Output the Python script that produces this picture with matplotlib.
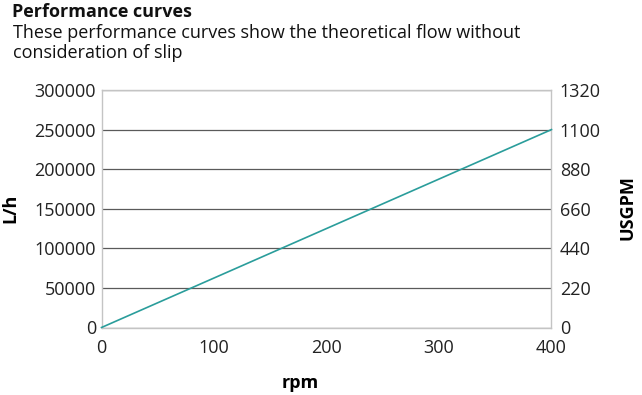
import matplotlib
matplotlib.use("Agg")
import matplotlib.pyplot as plt

rpm = [0, 400]
flow_lh = [0, 250000]
left_ticks = [0, 50000, 100000, 150000, 200000, 250000, 300000]
right_ticks = [0, 220, 440, 660, 880, 1100, 1320]
x_ticks = [0, 100, 200, 300, 400]

plt.rcParams['font.family'] = ['Open Sans', 'DejaVu Sans']
FS = 13

fig = plt.figure(figsize=(6.42, 3.95), dpi=100)
ax = fig.add_axes([101.5/642, 1-327.5/395, 450/642, 237.5/395])
ax.plot(rpm, flow_lh, color='#2a9d9b', lw=1.2, clip_on=False, zorder=3)
ax.set_xlim(0, 400)
ax.set_ylim(0, 300000)
ax.set_xticks(x_ticks)
ax.set_yticks(left_ticks)
ax.set_yticklabels([str(v) for v in left_ticks])
ax.grid(axis='y', color='#5a5a5a', lw=0.9)
ax.set_axisbelow(True)
for s in ax.spines.values():
    s.set_color('#c4c4c4')
    s.set_linewidth(1)
ax.tick_params(length=0, labelsize=FS, colors='#222222', pad=4)
ax.tick_params(axis='x', pad=8)

ax2 = ax.twinx()
ax2.set_ylim(0, 1320)
ax2.set_yticks(right_ticks)
ax2.tick_params(length=0, labelsize=FS, colors='#222222', pad=6)
for s in ax2.spines.values():
    s.set_visible(False)

fig.text(12/642, 1-12/395, 'Performance curves', fontsize=FS, fontweight='bold', va='center', ha='left', color='#111111')
fig.text(13/642, 1-33/395, 'These performance curves show the theoretical flow without',
         fontsize=FS, va='center', ha='left', color='#111111')
fig.text(13/642, 1-53/395, 'consideration of slip',
         fontsize=FS, va='center', ha='left', color='#111111')
fig.text(10/642, 1-208/395, 'L/h', rotation=90, fontsize=FS, fontweight='bold', va='center', ha='center')
fig.text(628/642, 1-208/395, 'USGPM', rotation=90, fontsize=FS, fontweight='bold', va='center', ha='center')
fig.text(300/642, 1-383/395, 'rpm', fontsize=FS, fontweight='bold', va='center', ha='center')

fig.savefig('out.png', dpi=100)
